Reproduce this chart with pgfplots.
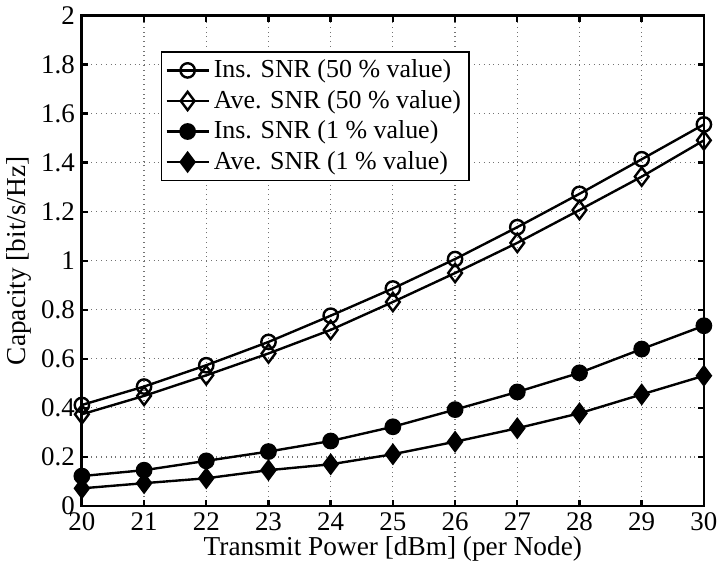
\documentclass[border=0pt]{standalone}
\usepackage{pgfplots}
\pgfplotsset{compat=1.18}
\usepackage{fontspec}
\setmainfont{Liberation Serif}
\begin{document}
\begin{tikzpicture}
\begin{axis}[
  scale only axis,
  width=312pt, height=246pt,
  xmin=20, xmax=30, ymin=0, ymax=2,
  xtick={20,21,...,30},
  ytick={0,0.2,...,2},
  yticklabels={0,0.2,0.4,0.6,0.8,1,1.2,1.4,1.6,1.8,2},
  /pgf/number format/assume math mode=true,
  tick label style={font=\fontsize{13.5}{15}\selectfont},
  label style={font=\fontsize{13.7}{16}\selectfont},
  xlabel={Transmit Power [dBm] (per Node)},
  ylabel={Capacity [bit/s/Hz]},
  xlabel style={yshift=4pt},
  ylabel style={yshift=-2pt},
  axis line style={line width=1.4pt},
  tick style={line width=1.2pt, black},
  tick align=inside,
  major tick length=3pt,
  xtick pos=both, ytick pos=both,
  grid=major,
  major grid style={dotted, black!55, line width=0.6pt},
  legend style={at={(0.127,0.927)}, anchor=north west,
    font=\fontsize{13}{14.5}\selectfont, draw=black, line width=0.6pt,
    row sep=0.8pt, inner sep=2pt},
  legend cell align=left,
  legend image code/.code={%
    \draw[mark repeat=2,mark phase=2] plot coordinates {(0cm,0cm) (0.37cm,0cm) (0.74cm,0cm)};},
  every axis plot/.append style={line width=1.2pt, black},
]
\addplot[mark=o, mark size=3.6pt, mark options={fill=white, line width=1.2pt}] coordinates {
(20,0.412) (21,0.487) (22,0.574) (23,0.669) (24,0.776) (25,0.887) (26,1.007) (27,1.137) (28,1.273) (29,1.414) (30,1.556)};
\addlegendentry{Ins. SNR (50 \% value)}
\addplot[mark=diamond, mark size=4.6pt, mark options={fill=white, line width=1.2pt}] coordinates {
(20,0.374) (21,0.449) (22,0.533) (23,0.622) (24,0.718) (25,0.832) (26,0.950) (27,1.073) (28,1.207) (29,1.343) (30,1.491)};
\addlegendentry{Ave. SNR (50 \% value)}
\addplot[mark=*, mark size=3.6pt, mark options={fill=black}] coordinates {
(20,0.122) (21,0.146) (22,0.184) (23,0.222) (24,0.265) (25,0.323) (26,0.393) (27,0.465) (28,0.543) (29,0.640) (30,0.735)};
\addlegendentry{Ins. SNR (1 \% value)}
\addplot[mark=diamond*, mark size=4.6pt, mark options={fill=black}] coordinates {
(20,0.072) (21,0.093) (22,0.113) (23,0.146) (24,0.170) (25,0.211) (26,0.262) (27,0.317) (28,0.378) (29,0.455) (30,0.531)};
\addlegendentry{Ave. SNR (1 \% value)}
\end{axis}
\end{tikzpicture}
\end{document}
